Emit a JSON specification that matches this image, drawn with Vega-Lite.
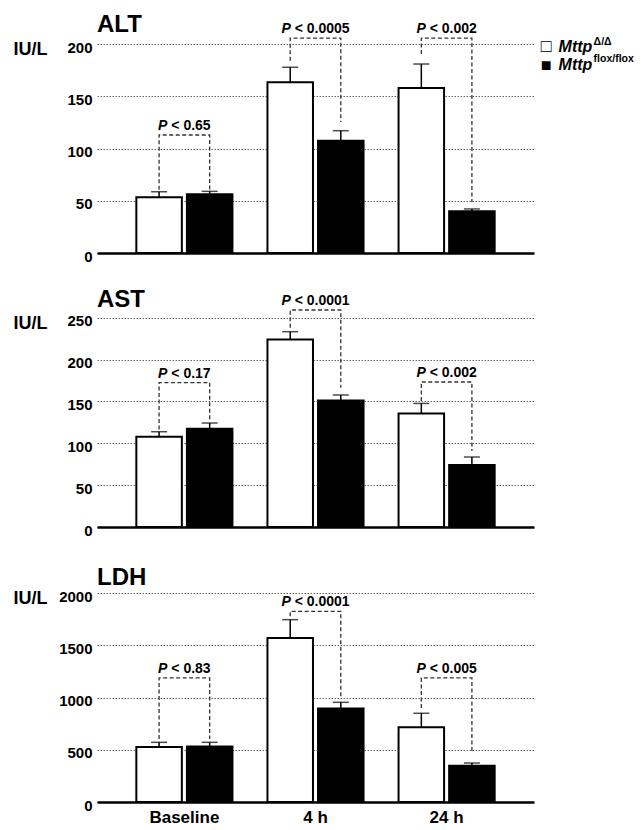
{
  "$schema": "https://vega.github.io/schema/vega-lite/v6.json",
  "background": "white",
  "padding": {"left": 13, "top": 13, "right": 0, "bottom": 0},
  "spacing": 28,
  "config": {
    "view": {"stroke": null},
    "font": "Liberation Sans",
    "title": {"anchor": "start", "frame": "group", "fontSize": 24, "fontWeight": "bold", "font": "Liberation Sans", "color": "black", "baseline": "alphabetic"},
    "axisY": {"domain": false, "ticks": false, "grid": true, "gridColor": "#666", "gridDash": [1.5, 1.5], "gridWidth": 1, "labelFont": "Liberation Sans", "labelFontSize": 15, "labelFontWeight": "bold", "labelColor": "black", "labelPadding": 5, "labelOffset": 3, "format": "d", "titleAngle": 0, "titleX": -84, "titleY": 12.5, "titleAlign": "left", "titleBaseline": "middle", "titleFont": "Liberation Sans", "titleFontSize": 18, "titleFontWeight": "bold", "titleColor": "black"},
    "axisX": {"domain": true, "domainColor": "black", "domainWidth": 2.5, "ticks": false, "grid": false, "labelFont": "Liberation Sans", "labelFontSize": 17, "labelFontWeight": "bold", "labelColor": "black", "labelPadding": 7, "labelAngle": 0, "title": null, "zindex": 1}
  },
  "datasets": {
    "bars": [
      {"test": "ALT", "time": "Baseline", "genotype": "Δ/Δ", "value": 53.4, "err": 58.7},
      {"test": "ALT", "time": "Baseline", "genotype": "flox/flox", "value": 56.3, "err": 59.1},
      {"test": "ALT", "time": "4 h", "genotype": "Δ/Δ", "value": 163.6, "err": 178.0},
      {"test": "ALT", "time": "4 h", "genotype": "flox/flox", "value": 107.6, "err": 117.2},
      {"test": "ALT", "time": "24 h", "genotype": "Δ/Δ", "value": 158.1, "err": 181.1},
      {"test": "ALT", "time": "24 h", "genotype": "flox/flox", "value": 40.0, "err": 42.2},
      {"test": "AST", "time": "Baseline", "genotype": "Δ/Δ", "value": 107.9, "err": 113.8},
      {"test": "AST", "time": "Baseline", "genotype": "flox/flox", "value": 117.4, "err": 124.2},
      {"test": "AST", "time": "4 h", "genotype": "Δ/Δ", "value": 224.1, "err": 233.3},
      {"test": "AST", "time": "4 h", "genotype": "flox/flox", "value": 151.2, "err": 157.7},
      {"test": "AST", "time": "24 h", "genotype": "Δ/Δ", "value": 135.7, "err": 147.6},
      {"test": "AST", "time": "24 h", "genotype": "flox/flox", "value": 74.1, "err": 83.6},
      {"test": "LDH", "time": "Baseline", "genotype": "Δ/Δ", "value": 526, "err": 571},
      {"test": "LDH", "time": "Baseline", "genotype": "flox/flox", "value": 530, "err": 571},
      {"test": "LDH", "time": "4 h", "genotype": "Δ/Δ", "value": 1569, "err": 1745},
      {"test": "LDH", "time": "4 h", "genotype": "flox/flox", "value": 894, "err": 954},
      {"test": "LDH", "time": "24 h", "genotype": "Δ/Δ", "value": 715, "err": 849},
      {"test": "LDH", "time": "24 h", "genotype": "flox/flox", "value": 348, "err": 373}
    ],
    "brackets": [
      {"test": "ALT", "time": "Baseline", "genotype": "Δ/Δ", "y": 60.5, "ord": 1},
      {"test": "ALT", "time": "Baseline", "genotype": "Δ/Δ", "y": 113.1, "ord": 2},
      {"test": "ALT", "time": "Baseline", "genotype": "flox/flox", "y": 113.1, "ord": 3},
      {"test": "ALT", "time": "Baseline", "genotype": "flox/flox", "y": 60.5, "ord": 4},
      {"test": "ALT", "time": "4 h", "genotype": "Δ/Δ", "y": 184.3, "ord": 1},
      {"test": "ALT", "time": "4 h", "genotype": "Δ/Δ", "y": 206, "ord": 2},
      {"test": "ALT", "time": "4 h", "genotype": "flox/flox", "y": 206, "ord": 3},
      {"test": "ALT", "time": "4 h", "genotype": "flox/flox", "y": 125.5, "ord": 4},
      {"test": "ALT", "time": "24 h", "genotype": "Δ/Δ", "y": 190.7, "ord": 1},
      {"test": "ALT", "time": "24 h", "genotype": "Δ/Δ", "y": 206, "ord": 2},
      {"test": "ALT", "time": "24 h", "genotype": "flox/flox", "y": 206, "ord": 3},
      {"test": "ALT", "time": "24 h", "genotype": "flox/flox", "y": 48.9, "ord": 4},
      {"test": "AST", "time": "Baseline", "genotype": "Δ/Δ", "y": 116.6, "ord": 1},
      {"test": "AST", "time": "Baseline", "genotype": "Δ/Δ", "y": 172.4, "ord": 2},
      {"test": "AST", "time": "Baseline", "genotype": "flox/flox", "y": 172.4, "ord": 3},
      {"test": "AST", "time": "Baseline", "genotype": "flox/flox", "y": 126.6, "ord": 4},
      {"test": "AST", "time": "4 h", "genotype": "Δ/Δ", "y": 238, "ord": 1},
      {"test": "AST", "time": "4 h", "genotype": "Δ/Δ", "y": 259.2, "ord": 2},
      {"test": "AST", "time": "4 h", "genotype": "flox/flox", "y": 259.2, "ord": 3},
      {"test": "AST", "time": "4 h", "genotype": "flox/flox", "y": 166.4, "ord": 4},
      {"test": "AST", "time": "24 h", "genotype": "Δ/Δ", "y": 150.5, "ord": 1},
      {"test": "AST", "time": "24 h", "genotype": "Δ/Δ", "y": 173.2, "ord": 2},
      {"test": "AST", "time": "24 h", "genotype": "flox/flox", "y": 173.2, "ord": 3},
      {"test": "AST", "time": "24 h", "genotype": "flox/flox", "y": 90.8, "ord": 4},
      {"test": "LDH", "time": "Baseline", "genotype": "Δ/Δ", "y": 604, "ord": 1},
      {"test": "LDH", "time": "Baseline", "genotype": "Δ/Δ", "y": 1187, "ord": 2},
      {"test": "LDH", "time": "Baseline", "genotype": "flox/flox", "y": 1187, "ord": 3},
      {"test": "LDH", "time": "Baseline", "genotype": "flox/flox", "y": 604, "ord": 4},
      {"test": "LDH", "time": "4 h", "genotype": "Δ/Δ", "y": 1777, "ord": 1},
      {"test": "LDH", "time": "4 h", "genotype": "Δ/Δ", "y": 1825, "ord": 2},
      {"test": "LDH", "time": "4 h", "genotype": "flox/flox", "y": 1825, "ord": 3},
      {"test": "LDH", "time": "4 h", "genotype": "flox/flox", "y": 1011, "ord": 4},
      {"test": "LDH", "time": "24 h", "genotype": "Δ/Δ", "y": 900, "ord": 1},
      {"test": "LDH", "time": "24 h", "genotype": "Δ/Δ", "y": 1187, "ord": 2},
      {"test": "LDH", "time": "24 h", "genotype": "flox/flox", "y": 1187, "ord": 3},
      {"test": "LDH", "time": "24 h", "genotype": "flox/flox", "y": 469, "ord": 4}
    ],
    "plabels": [
      {"test": "ALT", "time": "Baseline", "p": "P < 0.65", "level": 113.1},
      {"test": "ALT", "time": "4 h", "p": "P < 0.0005", "level": 206},
      {"test": "ALT", "time": "24 h", "p": "P < 0.002", "level": 206},
      {"test": "AST", "time": "Baseline", "p": "P < 0.17", "level": 172.4},
      {"test": "AST", "time": "4 h", "p": "P < 0.0001", "level": 259.2},
      {"test": "AST", "time": "24 h", "p": "P < 0.002", "level": 173.2},
      {"test": "LDH", "time": "Baseline", "p": "P < 0.83", "level": 1187},
      {"test": "LDH", "time": "4 h", "p": "P < 0.0001", "level": 1825},
      {"test": "LDH", "time": "24 h", "p": "P < 0.005", "level": 1187}
    ]
  },
  "vconcat": [
    {
      "spacing": 24,
      "vconcat": [
        {
          "width": 437, "height": 216,
          "title": {"text": "ALT", "offset": -15},
          "encoding": {"x": {"field": "time", "type": "nominal", "sort": ["Baseline", "4 h", "24 h"], "scale": {"paddingInner": 0.267, "paddingOuter": 0.3}, "axis": {"labels": false}}},
          "layer": [
            {"data": {"name": "bars"}, "transform": [{"filter": "datum.test === 'ALT'"}],
             "mark": {"type": "bar", "stroke": "black", "strokeWidth": 2},
             "encoding": {
               "xOffset": {"field": "genotype", "type": "nominal", "sort": ["Δ/Δ", "flox/flox"], "scale": {"paddingInner": 0.1, "paddingOuter": 0}},
               "y": {"field": "value", "type": "quantitative", "title": "IU/L", "scale": {"domain": [0, 207], "nice": false}, "axis": {"values": [0, 50, 100, 150, 200]}},
               "fill": {"field": "genotype", "type": "nominal", "scale": {"domain": ["Δ/Δ", "flox/flox"], "range": ["white", "black"]}, "legend": null}}},
            {"data": {"name": "bars"}, "transform": [{"filter": "datum.test === 'ALT'"}],
             "mark": {"type": "rule", "color": "black", "strokeWidth": 1.5},
             "encoding": {
               "xOffset": {"field": "genotype", "type": "nominal", "sort": ["Δ/Δ", "flox/flox"]},
               "y": {"field": "value", "type": "quantitative", "title": "IU/L"}, "y2": {"field": "err"}}},
            {"data": {"name": "bars"}, "transform": [{"filter": "datum.test === 'ALT'"}],
             "mark": {"type": "tick", "color": "black", "thickness": 1.5, "size": 16, "orient": "horizontal"},
             "encoding": {
               "xOffset": {"field": "genotype", "type": "nominal", "sort": ["Δ/Δ", "flox/flox"]},
               "y": {"field": "err", "type": "quantitative", "title": "IU/L"}}},
            {"data": {"name": "brackets"}, "transform": [{"filter": "datum.test === 'ALT'"}],
             "mark": {"type": "line", "color": "#333", "strokeWidth": 1.3, "strokeDash": [4, 2.5]},
             "encoding": {
               "xOffset": {"field": "genotype", "type": "nominal", "sort": ["Δ/Δ", "flox/flox"]},
               "y": {"field": "y", "type": "quantitative", "title": "IU/L"},
               "detail": {"field": "time"}, "order": {"field": "ord", "type": "quantitative"}}},
            {"data": {"name": "plabels"}, "transform": [{"filter": "datum.test === 'ALT'"}],
             "mark": {"type": "text", "font": "Liberation Sans", "fontWeight": "bold", "fontSize": 14, "align": "left", "baseline": "alphabetic", "dy": -5, "color": "black", "text": {"expr": "slice(datum.p, 2)"}, "dx": {"expr": "-(2.641 + 0.556 * (length(datum.p) - 6)) * 7 + 13.23"}},
             "encoding": {"y": {"field": "level", "type": "quantitative", "title": "IU/L"}}},
            {"data": {"name": "plabels"}, "transform": [{"filter": "datum.test === 'ALT'"}],
             "mark": {"type": "text", "font": "Liberation Sans", "fontWeight": "bold", "fontStyle": "italic", "fontSize": 14, "align": "left", "baseline": "alphabetic", "dy": -5, "color": "black", "text": {"expr": "slice(datum.p, 0, 1)"}, "dx": {"expr": "-(2.641 + 0.556 * (length(datum.p) - 6)) * 7"}},
             "encoding": {"y": {"field": "level", "type": "quantitative", "title": "IU/L"}}},
            {"data": {"values": [{}]}, "mark": {"type": "text", "text": "□", "font": "Liberation Sans", "fontSize": 18, "align": "center", "baseline": "middle", "dx": 99.5, "color": "black"},
             "encoding": {"x": {"datum": "24 h"}, "y": {"datum": 197.6}}},
            {"data": {"values": [{}]}, "mark": {"type": "text", "text": "■", "font": "Liberation Sans", "fontSize": 18, "align": "center", "baseline": "middle", "dx": 99.5, "color": "black"},
             "encoding": {"x": {"datum": "24 h"}, "y": {"datum": 179.6}}},
            {"data": {"values": [{}]}, "mark": {"type": "text", "text": "Mttp", "font": "Liberation Sans", "fontSize": 16, "fontWeight": "bold", "fontStyle": "italic", "align": "left", "baseline": "alphabetic", "dx": 112, "color": "black"},
             "encoding": {"x": {"datum": "24 h"}, "y": {"datum": 192.6}}},
            {"data": {"values": [{}]}, "mark": {"type": "text", "text": "Mttp", "font": "Liberation Sans", "fontSize": 16, "fontWeight": "bold", "fontStyle": "italic", "align": "left", "baseline": "alphabetic", "dx": 112, "color": "black"},
             "encoding": {"x": {"datum": "24 h"}, "y": {"datum": 175.4}}},
            {"data": {"values": [{}]}, "mark": {"type": "text", "text": "Δ/Δ", "font": "Liberation Sans", "fontSize": 10.5, "fontWeight": "bold", "align": "left", "baseline": "alphabetic", "dx": 147, "dy": -7.5, "color": "black"},
             "encoding": {"x": {"datum": "24 h"}, "y": {"datum": 192.6}}},
            {"data": {"values": [{}]}, "mark": {"type": "text", "text": "flox/flox", "font": "Liberation Sans", "fontSize": 10.5, "fontWeight": "bold", "align": "left", "baseline": "alphabetic", "dx": 147, "dy": -7.5, "color": "black"},
             "encoding": {"x": {"datum": "24 h"}, "y": {"datum": 175.4}}}
          ]
        },
        {
          "width": 437, "height": 216,
          "title": {"text": "AST", "offset": -18.5},
          "encoding": {"x": {"field": "time", "type": "nominal", "sort": ["Baseline", "4 h", "24 h"], "scale": {"paddingInner": 0.267, "paddingOuter": 0.3}, "axis": {"labels": false}}},
          "layer": [
            {"data": {"name": "bars"}, "transform": [{"filter": "datum.test === 'AST'"}],
             "mark": {"type": "bar", "stroke": "black", "strokeWidth": 2},
             "encoding": {
               "xOffset": {"field": "genotype", "type": "nominal", "sort": ["Δ/Δ", "flox/flox"], "scale": {"paddingInner": 0.1, "paddingOuter": 0}},
               "y": {"field": "value", "type": "quantitative", "title": "IU/L", "scale": {"domain": [0, 258], "nice": false}, "axis": {"values": [0, 50, 100, 150, 200, 250]}},
               "fill": {"field": "genotype", "type": "nominal", "scale": {"domain": ["Δ/Δ", "flox/flox"], "range": ["white", "black"]}, "legend": null}}},
            {"data": {"name": "bars"}, "transform": [{"filter": "datum.test === 'AST'"}],
             "mark": {"type": "rule", "color": "black", "strokeWidth": 1.5},
             "encoding": {
               "xOffset": {"field": "genotype", "type": "nominal", "sort": ["Δ/Δ", "flox/flox"]},
               "y": {"field": "value", "type": "quantitative", "title": "IU/L"}, "y2": {"field": "err"}}},
            {"data": {"name": "bars"}, "transform": [{"filter": "datum.test === 'AST'"}],
             "mark": {"type": "tick", "color": "black", "thickness": 1.5, "size": 16, "orient": "horizontal"},
             "encoding": {
               "xOffset": {"field": "genotype", "type": "nominal", "sort": ["Δ/Δ", "flox/flox"]},
               "y": {"field": "err", "type": "quantitative", "title": "IU/L"}}},
            {"data": {"name": "brackets"}, "transform": [{"filter": "datum.test === 'AST'"}],
             "mark": {"type": "line", "color": "#333", "strokeWidth": 1.3, "strokeDash": [4, 2.5]},
             "encoding": {
               "xOffset": {"field": "genotype", "type": "nominal", "sort": ["Δ/Δ", "flox/flox"]},
               "y": {"field": "y", "type": "quantitative", "title": "IU/L"},
               "detail": {"field": "time"}, "order": {"field": "ord", "type": "quantitative"}}},
            {"data": {"name": "plabels"}, "transform": [{"filter": "datum.test === 'AST'"}],
             "mark": {"type": "text", "font": "Liberation Sans", "fontWeight": "bold", "fontSize": 14, "align": "left", "baseline": "alphabetic", "dy": -5, "color": "black", "text": {"expr": "slice(datum.p, 2)"}, "dx": {"expr": "-(2.641 + 0.556 * (length(datum.p) - 6)) * 7 + 13.23"}},
             "encoding": {"y": {"field": "level", "type": "quantitative", "title": "IU/L"}}},
            {"data": {"name": "plabels"}, "transform": [{"filter": "datum.test === 'AST'"}],
             "mark": {"type": "text", "font": "Liberation Sans", "fontWeight": "bold", "fontStyle": "italic", "fontSize": 14, "align": "left", "baseline": "alphabetic", "dy": -5, "color": "black", "text": {"expr": "slice(datum.p, 0, 1)"}, "dx": {"expr": "-(2.641 + 0.556 * (length(datum.p) - 6)) * 7"}},
             "encoding": {"y": {"field": "level", "type": "quantitative", "title": "IU/L"}}}
          ]
        }
      ]
    },
    {
      "width": 437, "height": 216,
      "title": {"text": "LDH", "offset": -4},
      "encoding": {"x": {"field": "time", "type": "nominal", "sort": ["Baseline", "4 h", "24 h"], "scale": {"paddingInner": 0.267, "paddingOuter": 0.3}, "axis": {"labels": true}}},
      "layer": [
        {"data": {"name": "bars"}, "transform": [{"filter": "datum.test === 'LDH'"}],
         "mark": {"type": "bar", "stroke": "black", "strokeWidth": 2},
         "encoding": {
           "xOffset": {"field": "genotype", "type": "nominal", "sort": ["Δ/Δ", "flox/flox"], "scale": {"paddingInner": 0.1, "paddingOuter": 0}},
           "y": {"field": "value", "type": "quantitative", "title": "IU/L", "scale": {"domain": [0, 2067], "nice": false}, "axis": {"values": [0, 500, 1000, 1500, 2000]}},
           "fill": {"field": "genotype", "type": "nominal", "scale": {"domain": ["Δ/Δ", "flox/flox"], "range": ["white", "black"]}, "legend": null}}},
        {"data": {"name": "bars"}, "transform": [{"filter": "datum.test === 'LDH'"}],
         "mark": {"type": "rule", "color": "black", "strokeWidth": 1.5},
         "encoding": {
           "xOffset": {"field": "genotype", "type": "nominal", "sort": ["Δ/Δ", "flox/flox"]},
           "y": {"field": "value", "type": "quantitative", "title": "IU/L"}, "y2": {"field": "err"}}},
        {"data": {"name": "bars"}, "transform": [{"filter": "datum.test === 'LDH'"}],
         "mark": {"type": "tick", "color": "black", "thickness": 1.5, "size": 16, "orient": "horizontal"},
         "encoding": {
           "xOffset": {"field": "genotype", "type": "nominal", "sort": ["Δ/Δ", "flox/flox"]},
           "y": {"field": "err", "type": "quantitative", "title": "IU/L"}}},
        {"data": {"name": "brackets"}, "transform": [{"filter": "datum.test === 'LDH'"}],
         "mark": {"type": "line", "color": "#333", "strokeWidth": 1.3, "strokeDash": [4, 2.5]},
         "encoding": {
           "xOffset": {"field": "genotype", "type": "nominal", "sort": ["Δ/Δ", "flox/flox"]},
           "y": {"field": "y", "type": "quantitative", "title": "IU/L"},
           "detail": {"field": "time"}, "order": {"field": "ord", "type": "quantitative"}}},
        {"data": {"name": "plabels"}, "transform": [{"filter": "datum.test === 'LDH'"}],
         "mark": {"type": "text", "font": "Liberation Sans", "fontWeight": "bold", "fontSize": 14, "align": "left", "baseline": "alphabetic", "dy": -5, "color": "black", "text": {"expr": "slice(datum.p, 2)"}, "dx": {"expr": "-(2.641 + 0.556 * (length(datum.p) - 6)) * 7 + 13.23"}},
         "encoding": {"y": {"field": "level", "type": "quantitative", "title": "IU/L"}}},
        {"data": {"name": "plabels"}, "transform": [{"filter": "datum.test === 'LDH'"}],
         "mark": {"type": "text", "font": "Liberation Sans", "fontWeight": "bold", "fontStyle": "italic", "fontSize": 14, "align": "left", "baseline": "alphabetic", "dy": -5, "color": "black", "text": {"expr": "slice(datum.p, 0, 1)"}, "dx": {"expr": "-(2.641 + 0.556 * (length(datum.p) - 6)) * 7"}},
         "encoding": {"y": {"field": "level", "type": "quantitative", "title": "IU/L"}}}
      ]
    }
  ]
}
